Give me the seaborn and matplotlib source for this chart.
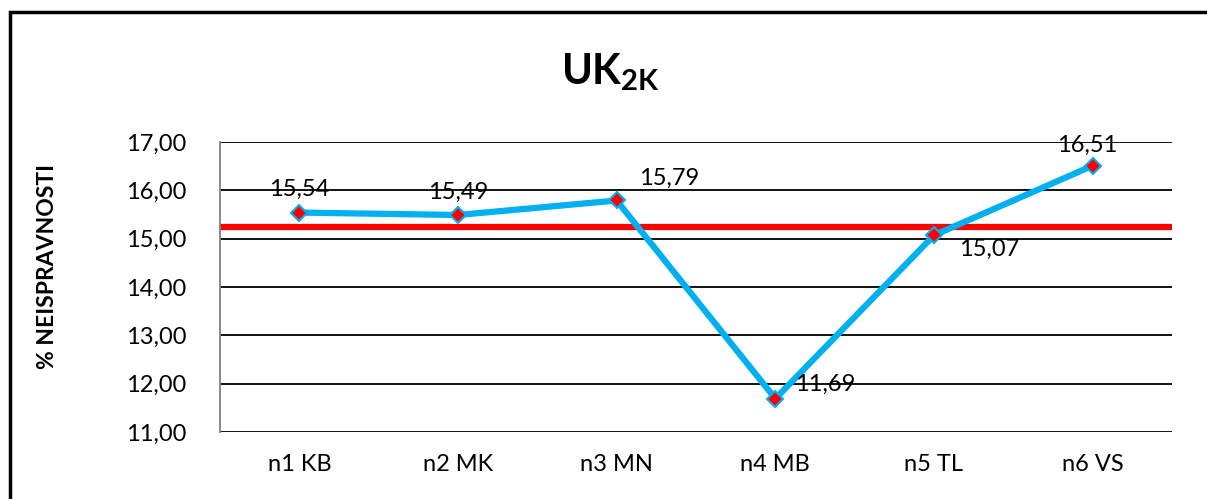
import matplotlib
matplotlib.use("Agg")
import matplotlib.pyplot as plt
from matplotlib.patches import Rectangle
import seaborn as sns
import pandas as pd

# data
categories = ["n1 KB", "n2 MK", "n3 MN", "n4 MB", "n5 TL", "n6 VS"]
values = [15.54, 15.49, 15.79, 11.69, 15.07, 16.51]
average = 15.24
yticks = [11, 12, 13, 14, 15, 16, 17]

# label offsets in points (dx, dy)
label_offsets = [(0, 17), (0, 16), (38, 16), (36, 10), (40, -10), (-4, 15)]

sns.set_style("white")
plt.rcParams['font.family'] = ['Lato', 'DejaVu Sans']
plt.rcParams['text.color'] = 'black'
plt.rcParams['axes.labelcolor'] = 'black'
plt.rcParams['xtick.color'] = 'black'
plt.rcParams['ytick.color'] = 'black'
plt.rcParams['mathtext.fontset'] = 'custom'
plt.rcParams['mathtext.bf'] = 'Lato:bold'
plt.rcParams['mathtext.rm'] = 'Lato'

df = pd.DataFrame({"x": [i + 0.5 for i in range(len(categories))], "val": values})

fig = plt.figure(figsize=(12.07, 4.99), dpi=100)
ax = fig.add_axes([220 / 1207, 1 - 432 / 499, (1172 - 220) / 1207, (432 - 142) / 499])

# horizontal gridlines
for t in yticks:
    ax.axhline(t, color="black", lw=1.3, zorder=1)

# average line
ax.axhline(average, color="#FF0000", lw=4.5, zorder=2)

sns.lineplot(data=df, x="x", y="val", ax=ax, color="#00B0F0", lw=4.5, zorder=3,
             marker="D", markersize=8, markerfacecolor="#FF0000",
             markeredgecolor="#00B0F0", markeredgewidth=1.5)

for (xv, yv), (dx, dy) in zip(zip(df["x"], df["val"]), label_offsets):
    ax.annotate(f"{yv:.2f}".replace(".", ","), (xv, yv), xytext=(dx, dy),
                textcoords="offset points", ha="center", va="center", fontsize=17)

ax.set_xlim(0, 6)
ax.set_ylim(11, 17)
ax.set_yticks(yticks)
ax.set_yticklabels([f"{t:.2f}".replace(".", ",") for t in yticks], fontsize=17)
ax.set_xticks(df["x"])
ax.set_xticklabels(categories, fontsize=17)
ax.tick_params(axis="x", length=0, pad=16)
ax.tick_params(axis="y", length=0, pad=24)
ax.set_xlabel("")
ax.set_ylabel("% NEISPRAVNOSTI", fontsize=16.5, fontweight="bold")
ax.yaxis.set_label_coords(-0.17, 0.572)

for s in ["top", "right", "bottom"]:
    ax.spines[s].set_visible(False)
ax.spines["left"].set_color("#808080")
ax.spines["left"].set_linewidth(1.3)

fig.text(610 / 1207, 1 - 72 / 499, r"$\mathbf{UK_{2K}}$", ha="center", va="center", fontsize=30)

# outer frame
fig.patches.append(Rectangle((10 / 1207, -0.1), 1.2, 1 - 12 / 499 + 0.1, transform=fig.transFigure,
                             fill=False, edgecolor="black", lw=2.5))

fig.savefig("out.png", dpi=100, facecolor="white")
